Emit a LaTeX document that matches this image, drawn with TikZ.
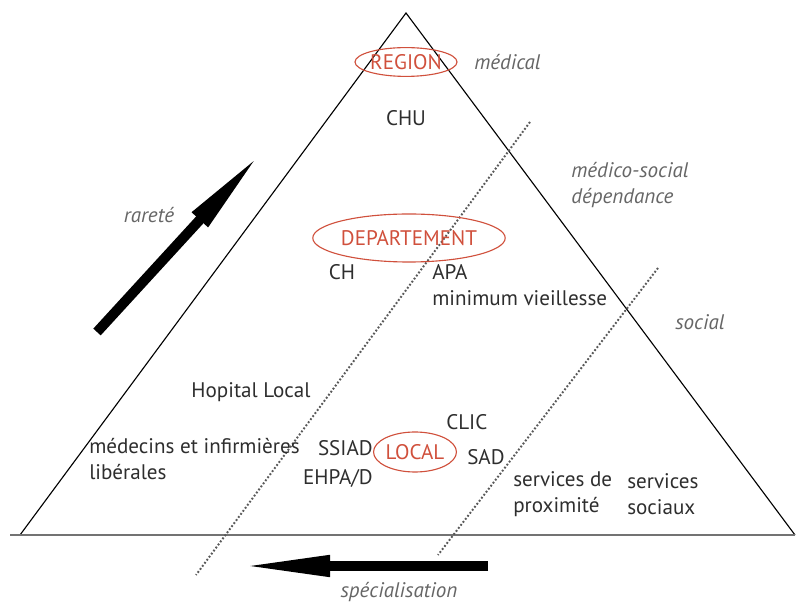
\documentclass[tikz,border=0pt]{standalone}
\usepackage{fontspec}
\setmainfont{PT Sans}
\usetikzlibrary{arrows.meta,shapes.geometric}
\definecolor{txtgray}{HTML}{2E2E2E}
\definecolor{lblgray}{HTML}{666666}
\definecolor{lvlred}{HTML}{D0503C}
\begin{document}
\begin{tikzpicture}[x=0.025cm,y=-0.025cm]
    \tikzset{level/.style = {ellipse, draw=lvlred, thick, text=lvlred, inner sep=0pt, font=\fontsize{15}{17}\selectfont}}
    \tikzset{item/.style = {text=txtgray, inner sep=0pt, font=\fontsize{15}{18.5}\selectfont}}
    \tikzset{field/.style = {text=lblgray, inner sep=0pt, font=\fontsize{15}{18.5}\selectfont\itshape}}
    \tikzset{border/.style = {black!65, line width=1.4pt, dash pattern=on 1.3pt off 1.4pt}}
    \tikzset{bigarrow/.style = {line width=0.25cm, -{Triangle[length=2.3cm, width=0.48cm]}}}
    \useasboundingbox (0,0) rectangle (798,602);
    % triangle
    \coordinate (apex) at (406,13);
    \coordinate (bl) at (20,535);
    \coordinate (br) at (795,535);
    \draw[line width=0.8pt] (bl) -- (apex) -- (br);
    \draw[line width=1.6pt, black!55] (10,535) -- (br);
    % borders between fields
    \coordinate (b1top) at (530,122);
    \coordinate (b1bot) at (196,575);
    \coordinate (b2top) at (658,268);
    \coordinate (b2bot) at (438,555);
    \draw[border] (b1top) -- (b1bot);
    \draw[border] (b2top) -- (b2bot);
    % levels
    \node[level, minimum width=2.55cm, minimum height=0.72cm] (reg) at (406,62) {REGION};
    \node[level, minimum width=4.05cm, minimum height=1.2cm] (dept) at (409,238) {DEPARTEMENT};
    \node[level, minimum width=1.9cm, minimum height=1.0cm] (local) at (415,452) {LOCAL};
    % fields
    \node[field, anchor=west] (med) at (474,62) {médical};
    \node[field, anchor=west, align=left] (medsoc) at (571,185) {médico-social\\dépendance};
    \node[field, anchor=west] (soc) at (675,322) {social};
    \node[field] (rar) at (149,215) {rareté};
    \node[field] (spec) at (399,592) {spécialisation};
    % structures
    \node[item] (chu) at (406,118) {CHU};
    \node[item] (ch) at (342,272) {CH};
    \node[item, anchor=west] (apa) at (432,272) {APA};
    \node[item, anchor=west] (minv) at (432,298) {minimum vieillesse};
    \node[item] (hl) at (251,392) {Hopital Local};
    \node[item, anchor=west, align=left] (medinf) at (89,459) {médecins et infirmières\\libérales};
    \node[item, anchor=east] (ssiad) at (373,448) {SSIAD};
    \node[item, anchor=east] (ehpa) at (373,478) {EHPA/D};
    \node[item, anchor=west] (clic) at (446,422) {CLIC};
    \node[item, anchor=west] (sad) at (467,457) {SAD};
    \node[item, anchor=west, align=left] (sprox) at (513,494) {services de\\proximité};
    \node[item, anchor=west, align=left] (ssoc) at (627,494) {services\\sociaux};
    % arrows
    \coordinate (r0) at (97,332);
    \coordinate (r1) at (262,152);
    \coordinate (s0) at (488,566);
    \coordinate (s1) at (238,566);
    \draw[bigarrow] (r0) -- (r1);
    \draw[bigarrow] (s0) -- (s1);
\end{tikzpicture}
\end{document}
